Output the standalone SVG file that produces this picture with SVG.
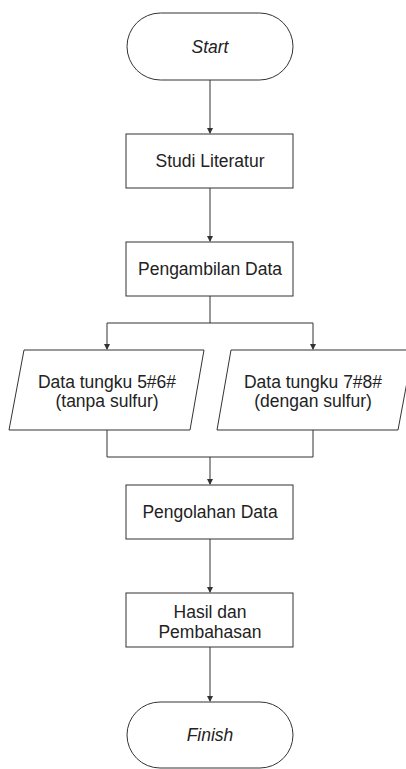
<svg xmlns="http://www.w3.org/2000/svg" width="406" height="769" viewBox="0 0 406 769">
<style>
.n{fill:#fff;stroke:#333;stroke-width:1}
.t{font-family:"Liberation Sans",Arial,sans-serif;font-size:17.5px;fill:#222;text-anchor:middle;dominant-baseline:central}
.i{font-style:italic}
.c{fill:none;stroke:#333;stroke-width:1}
</style>
<defs>
<marker id="a" markerWidth="6" markerHeight="6" refX="5" refY="3" orient="auto" markerUnits="userSpaceOnUse">
<path d="M0,0 L6,3 L0,6 Z" fill="#333"/>
</marker>
</defs>
<rect width="406" height="769" fill="#fff"/>
<g id="connectors">
<path class="c" d="M210,80 V133" marker-end="url(#a)"/>
<path class="c" d="M210,188 V241" marker-end="url(#a)"/>
<path class="c" d="M210,296 V323 M107,323 H313"/>
<path class="c" d="M107,323 V349" marker-end="url(#a)"/>
<path class="c" d="M313,323 V349" marker-end="url(#a)"/>
<path class="c" d="M107,430 V457 H313 V430 M210,457 V484" marker-end="url(#a)"/>
<path class="c" d="M210,539 V592" marker-end="url(#a)"/>
<path class="c" d="M210,647 V701" marker-end="url(#a)"/>
</g>
<g id="start">
<rect class="n" x="127" y="13" width="166" height="67" rx="33.5"/>
<text class="t i" x="210" y="47">Start</text>
</g>
<g id="studi">
<rect class="n" x="126" y="134" width="167" height="54"/>
<text class="t" x="210" y="161">Studi Literatur</text>
</g>
<g id="pengambilan">
<rect class="n" x="126" y="242" width="167" height="54"/>
<text class="t" x="210" y="269">Pengambilan Data</text>
</g>
<g id="data56">
<polygon class="n" points="24,350 204,350 190,430 9,430"/>
<text class="t" x="107" y="382">Data tungku 5#6#</text>
<text class="t" x="107" y="401">(tanpa sulfur)</text>
</g>
<g id="data78">
<polygon class="n" points="231,350 413,350 398,430 217,430"/>
<text class="t" x="313" y="382">Data tungku 7#8#</text>
<text class="t" x="313" y="401">(dengan sulfur)</text>
</g>
<g id="pengolahan">
<rect class="n" x="126" y="485" width="167" height="54"/>
<text class="t" x="210" y="512">Pengolahan Data</text>
</g>
<g id="hasil">
<rect class="n" x="126" y="593" width="167" height="54"/>
<text class="t" x="210" y="612">Hasil dan</text>
<text class="t" x="210" y="632">Pembahasan</text>
</g>
<g id="finish">
<rect class="n" x="127" y="702" width="166" height="66" rx="33"/>
<text class="t i" x="210" y="735">Finish</text>
</g>
</svg>
